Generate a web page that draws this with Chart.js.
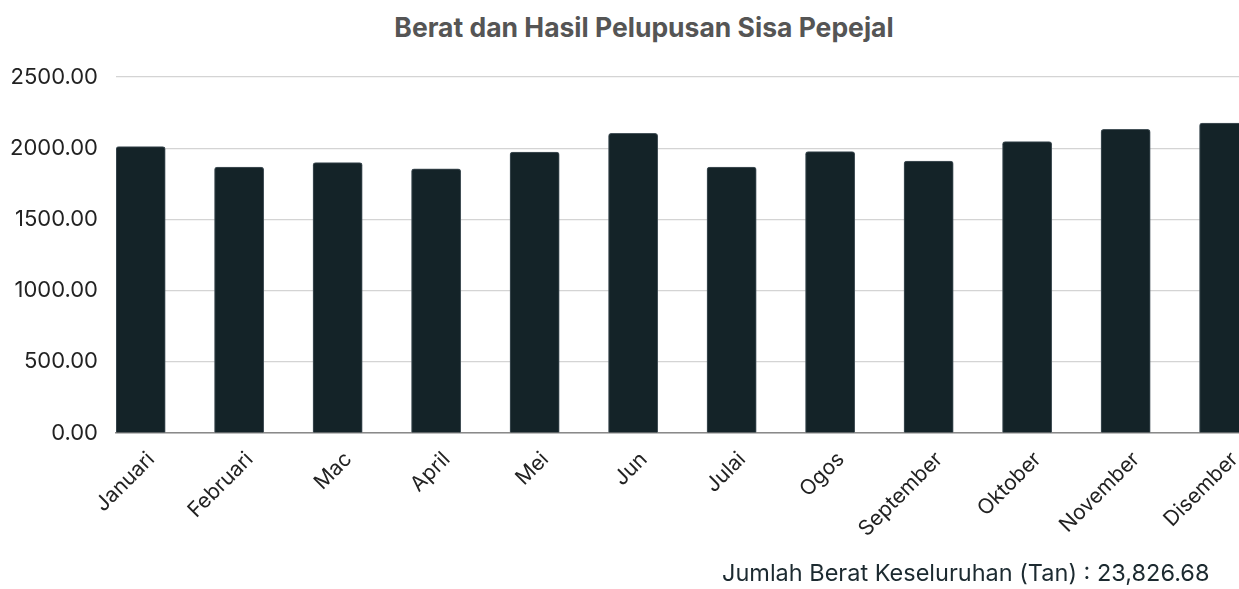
<!DOCTYPE html>
<html>
<head>
<meta charset="utf-8">
<script src="https://cdn.jsdelivr.net/npm/chart.js@4.4.1/dist/chart.umd.min.js"></script>
<style>
  html, body { margin: 0; padding: 0; background: #fff; }
  #wrap { position: relative; width: 1239px; height: 589px; overflow: hidden; font-family: Inter, "Noto Sans", sans-serif; }
  #title { position: absolute; left: 0; width: 1288px; top: 10px; text-align: center; font-weight: 700; font-size: 26.5px; color: #555555; line-height: 34px; }
  #cv { position: absolute; left: 0; top: 0; }
  #footer { position: absolute; left: 722px; top: 558px; font-size: 23.5px; color: #1c2a30; line-height: 30px; white-space: nowrap; }
</style>
</head>
<body>
<div id="wrap">
  <div id="title">Berat dan Hasil Pelupusan Sisa Pepejal</div>
  <canvas id="cv" width="1298" height="589" style="width:1298px;height:589px"></canvas>
  <div id="footer">Jumlah Berat Keseluruhan (Tan) : 23,826.68</div>
</div>
<script>
const categories = ["Januari","Februari","Mac","April","Mei","Jun","Julai","Ogos","September","Oktober","November","Disember"];
const beratTan = [2011, 1868, 1899, 1856, 1973, 2105, 1868, 1976, 1910, 2046, 2133, 2177];
const placeholder = [null, null, null, null, null, null, null, null, null, null, null, null];
const yTicks = [0, 500, 1000, 1500, 2000, 2500];

new Chart(document.getElementById('cv'), {
  type: 'bar',
  data: {
    labels: categories,
    datasets: [
      { label: 'Berat (Tan)', data: beratTan, backgroundColor: '#142328', borderColor: '#46535a', borderWidth: 1, borderRadius: { topLeft: 3, topRight: 3 }, borderSkipped: 'bottom' },
      { label: '', data: placeholder, backgroundColor: 'rgba(0,0,0,0)' }
    ]
  },
  options: {
    responsive: false,
    animation: false,
    devicePixelRatio: 1,
    layout: { padding: { top: 77, left: 0, right: 0, bottom: 0 } },
    datasets: { bar: { categoryPercentage: 1, barPercentage: 1, grouped: true } },
    plugins: { legend: { display: false }, title: { display: false }, tooltip: { enabled: false } },
    scales: {
      x: {
        grid: { display: false, drawTicks: false },
        border: { display: true, color: '#8a8a8a', width: 1.5 },
        ticks: { color: '#222', font: { family: 'Inter', size: 21 }, maxRotation: 45, minRotation: 45, padding: 14, labelOffset: -14, autoSkip: false },
        afterFit(s) { s.height = 156; }
      },
      y: {
        min: 0, max: 2500,
        afterBuildTicks(s) { s.ticks = yTicks.map(v => ({ value: v })); },
        grid: { color: '#d4d4d4', lineWidth: 1.2, drawTicks: false },
        border: { display: false },
        ticks: { color: '#222', font: { family: 'Inter', size: 22 }, padding: 18, callback: v => Number(v).toFixed(2) },
        afterFit(s) { s.width = 116; }
      }
    }
  }
});
</script>
</body>
</html>
